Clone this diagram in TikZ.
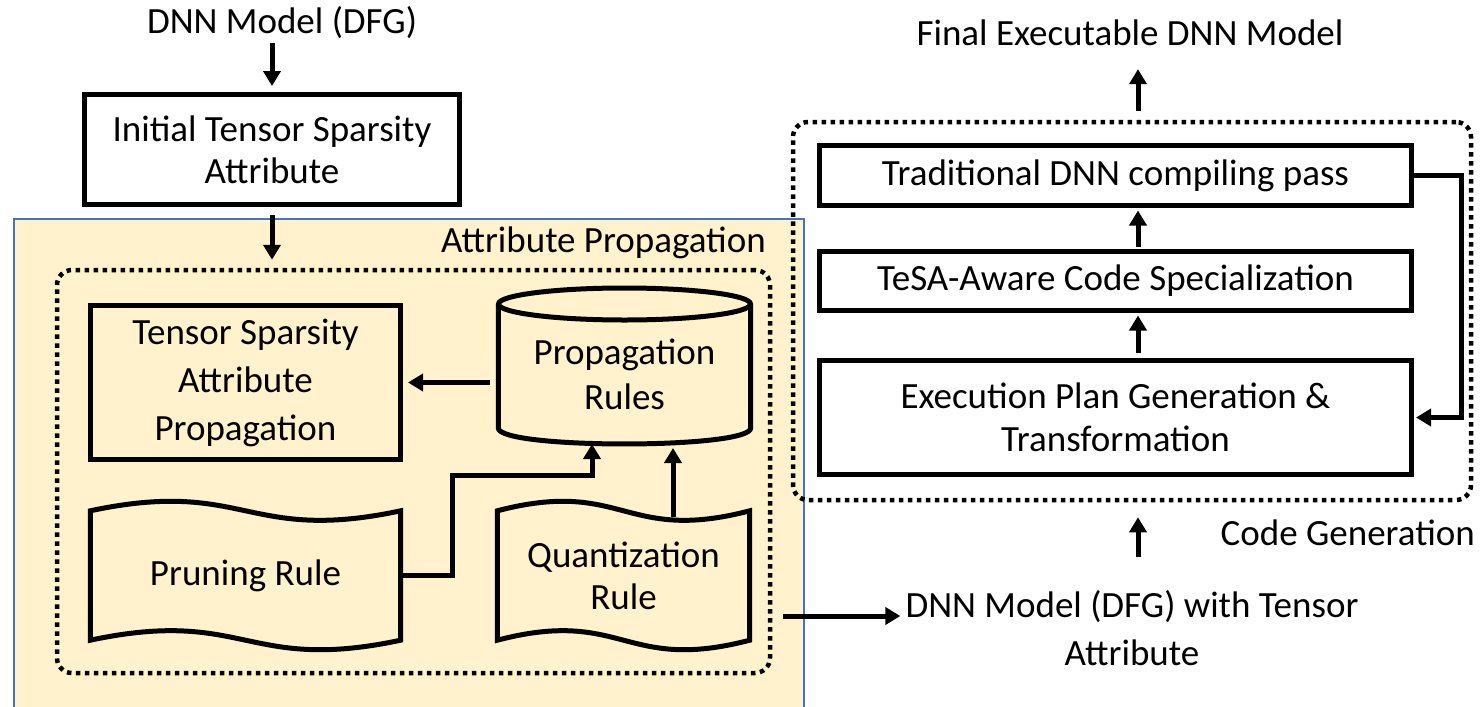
\documentclass[tikz,border=0pt]{standalone}
\usepackage{fontspec}
\setmainfont{Carlito}
\usetikzlibrary{arrows.meta,calc}
\definecolor{panelfill}{HTML}{FFF2CC}
\definecolor{panelline}{HTML}{4472C4}
\tikzset{
  txt/.style={font=\fontsize{37}{44}\selectfont, inner sep=0pt, align=center},
  blk/.style={txt, draw, line width=5pt},
  arr/.style={line width=5pt, -{Triangle[length=15pt,width=17pt]}},
  dotframe/.style={draw, line width=4.5pt, dash pattern=on 4.5pt off 4.5pt,
                   rounded corners=15pt, inner sep=0pt},
  tapeln/.style={line width=5pt, line join=miter}
}
\begin{document}
\begin{tikzpicture}[x=1pt,y=-1pt]
\useasboundingbox (0,0) rectangle (1481,707);

% ---------- attribute propagation panel ----------
\fill[panelfill] (14,219) rectangle (804,707);
\draw[panelline, line width=2pt] (14,707) -- (14,219) -- (804,219) -- (804,707);

\node[txt] (src) at (282,23) {DNN Model (DFG)};
\node[blk, fill=white, minimum width=375pt, minimum height=110pt,
      font=\fontsize{37}{42}\selectfont] (init) at (272,149.5)
      {Initial Tensor Sparsity\\Attribute};

\node[txt, anchor=east] (aplabel) at (766,243) {Attribute Propagation};
\node[dotframe, minimum width=713pt, minimum height=403pt] (inner) at (413.5,471.5) {};

\node[blk, minimum width=310pt, minimum height=154pt,
      font=\fontsize{37}{48}\selectfont] (tsap) at (245.5,382.5)
      {Tensor Sparsity\\Attribute\\Propagation};

% rule database (cylinder)
\node[txt, minimum width=252pt, font=\fontsize{37}{45}\selectfont] (prop) at (624.5,374.5)
      {Propagation\\Rules};
\path (prop.center) ++(0,-70.5) coordinate (proptop);
\path (prop.center) ++(0,53.5) coordinate (propbot);
\draw[tapeln] (prop.west |- proptop) -- (prop.west |- propbot)
  .. controls +(0,21.3) and +(0,21.3) .. (prop.east |- propbot) -- (prop.east |- proptop);
\draw[tapeln] (proptop) ellipse [x radius=126pt, y radius=16pt];

% rule documents (tapes)
\node[txt, minimum width=310pt, minimum height=129pt] (prune) at (245.5,575.5) {Pruning Rule};
\node[txt, minimum width=252pt, minimum height=129pt,
      font=\fontsize{37}{42}\selectfont] (quant) at (623.5,575.5) {Quantization\\Rule};
\foreach \t in {prune,quant}{
  \draw[tapeln] (\t.north west)
    .. controls ($(\t.north)+(0,-33)$) and ($(\t.north)+(0,33)$) .. (\t.north east)
    -- (\t.south east)
    .. controls ($(\t.south)+(0,33)$) and ($(\t.south)+(0,-33)$) .. (\t.south west)
    -- cycle;
}

% ---------- code generation ----------
\coordinate (spine) at (1138,0);
\node[txt] (final) at (1130,33) {Final Executable DNN Model};
\node[dotframe, minimum width=678pt, minimum height=378pt] (cg) at (1132,311) {};
\node[blk, minimum width=592pt, minimum height=60pt] (trad) at (1115.5,175.5)
      {Traditional DNN compiling pass};
\node[blk, minimum width=592pt, minimum height=59pt] (tesa) at (1115.5,281)
      {TeSA-Aware Code Specialization};
\node[blk, minimum width=592pt, minimum height=114pt,
      font=\fontsize{37}{43}\selectfont] (exec) at (1115.5,417.5)
      {Execution Plan Generation \&\\Transformation};
\node[txt, anchor=east] (cglabel) at (1475,533) {Code Generation};
\node[txt, font=\fontsize{37}{48}\selectfont] (out) at (1132,628)
      {DNN Model (DFG) with Tensor\\Attribute};

% ---------- connectors ----------
\draw[arr, shorten <=4pt, shorten >=6pt] (init.north |- src.south) -- (init.north);
\draw[arr, shorten <=8pt, shorten >=8pt] (init.south) -- (init.south |- inner.north);
\draw[arr, shorten <=8pt, shorten >=5pt] (prop.west |- tsap.east) -- (tsap.east);
\coordinate (bend) at (452,475);
\coordinate (propin) at (592,444);
\draw[arr] (prune.east) -| (bend) -| (propin);
\coordinate (quantin) at (673,448);
\draw[arr] (quant.north -| quantin) ++(0,6) -- (quantin);
\coordinate (apout) at (783,616);
\draw[arr, shorten >=5pt] (apout) -- (out.west |- apout);

\draw[arr, shorten <=9pt, shorten >=23pt] (cg.north -| spine) -- (final.south -| spine);
\draw[arr, shorten <=2.5pt, shorten >=2.5pt] (tesa.north -| spine) -- (trad.south -| spine);
\draw[arr, shorten <=5pt, shorten >=2.5pt] (exec.north -| spine) -- (tesa.south -| spine);
\coordinate (fbx) at (1461,0);
\draw[arr, shorten >=2pt] (trad.east) -- (trad.east -| fbx) |- (exec.east);
\draw[arr, shorten <=33pt, shorten >=15pt] (out.north -| spine) -- (cg.south -| spine);
\end{tikzpicture}
\end{document}
